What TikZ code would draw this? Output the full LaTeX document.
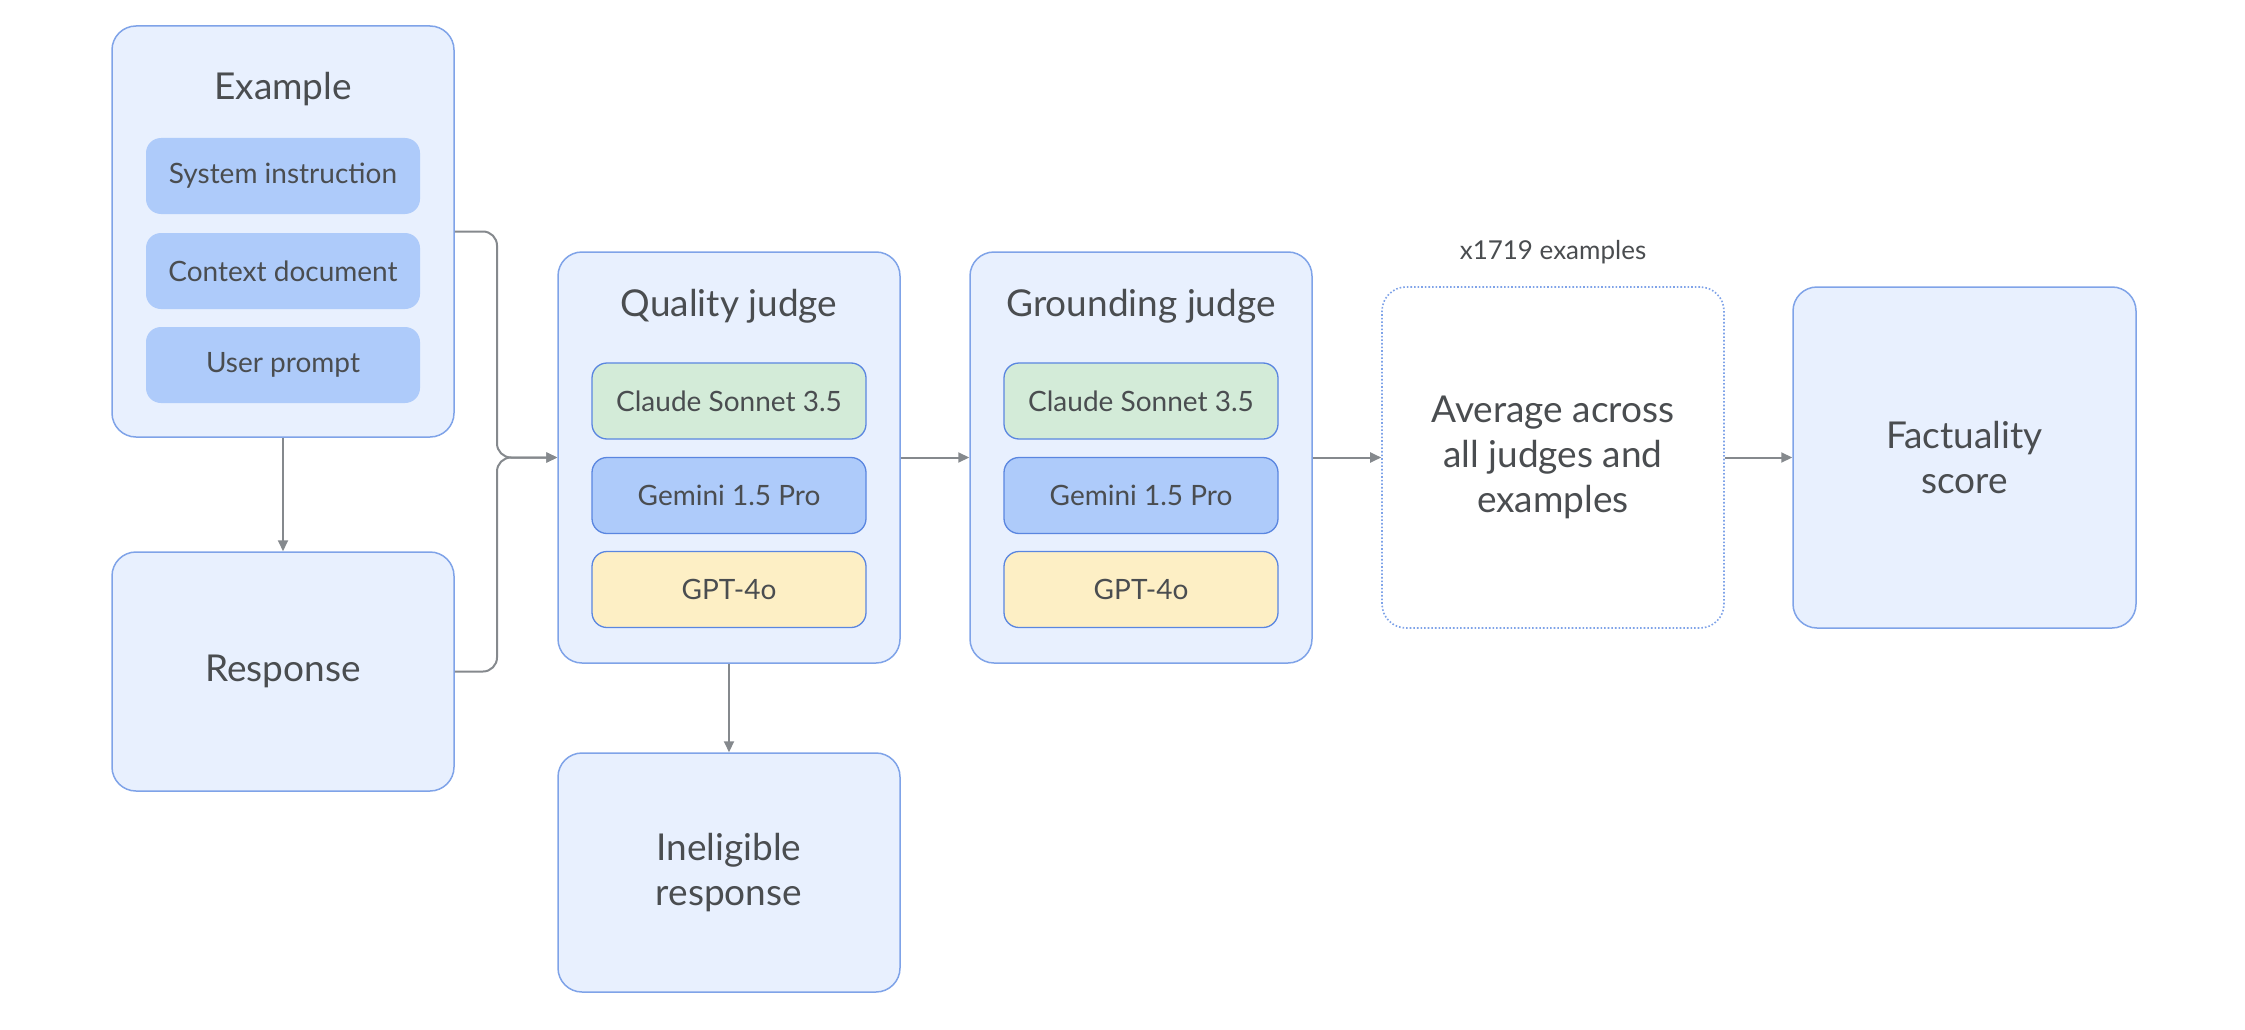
\documentclass[tikz,border=0pt]{standalone}
\usepackage{fontspec}
\setmainfont{Lato}
\usetikzlibrary{arrows.meta}
\definecolor{boxfill}{HTML}{E8F0FE}
\definecolor{boxline}{HTML}{7FA3E8}
\definecolor{subblue}{HTML}{AECBFA}
\definecolor{subline}{HTML}{5A86E0}
\definecolor{subgreen}{HTML}{D3EBD8}
\definecolor{subyellow}{HTML}{FDEFC5}
\definecolor{txt}{HTML}{4A4D50}
\definecolor{conn}{HTML}{85898D}
\tikzset{
  bigbox/.style={draw=boxline, fill=boxfill, line width=1.5pt, rounded corners=24pt, minimum width=342pt, text=txt, font=\fontsize{37}{45}\selectfont, align=center, inner sep=0pt},
  dotbox/.style={draw=boxline, fill=white, line width=1.6pt, dotted, rounded corners=24pt, minimum width=342pt, minimum height=341pt, text=txt, font=\fontsize{37}{45}\selectfont, align=center, inner sep=0pt},
  exsub/.style={fill=subblue, rounded corners=15pt, minimum width=274pt, minimum height=76pt, text=txt, font=\fontsize{28}{32}\selectfont, inner sep=0pt},
  judgesub/.style={draw=subline, line width=1.3pt, rounded corners=15pt, minimum width=274pt, minimum height=76pt, text=txt, font=\fontsize{28}{32}\selectfont, inner sep=0pt},
  titletext/.style={text=txt, font=\fontsize{37}{42}\selectfont, inner sep=0pt},
  conline/.style={draw=conn, line width=2pt, -{Triangle[length=11pt,width=10pt]}},
}
\begin{document}
\begin{tikzpicture}[x=1pt,y=-1pt]
\useasboundingbox (0,0) rectangle (2245,1030);
% big boxes
\node[bigbox, minimum height=411pt] (ex) at (283,231.5) {};
\node[titletext] (extitle) at (283,89) {Example};
\node[exsub] (sys) at (283,176) {System instruction};
\node[exsub] (ctx) at (283,271) {Context document};
\node[exsub] (usr) at (283,365) {User prompt};

\node[bigbox, minimum height=239pt] (resp) at (283,671.5) {Response};

\node[bigbox, minimum height=411pt] (qj) at (729,457.5) {};
\node[titletext] (qjtitle) at (729,306) {Quality judge};
\node[judgesub, fill=subgreen] (qc) at (729,401) {Claude Sonnet 3.5};
\node[judgesub, fill=subblue] (qg) at (729,495.5) {Gemini 1.5 Pro};
\node[judgesub, fill=subyellow] (qo) at (729,589.5) {GPT-4o};

\node[bigbox, minimum height=239pt] (inel) at (729,872.5) {Ineligible\\response};

\node[bigbox, minimum height=411pt] (gj) at (1141,457.5) {};
\node[titletext] (gjtitle) at (1141,306) {Grounding judge};
\node[judgesub, fill=subgreen] (gc) at (1141,401) {Claude Sonnet 3.5};
\node[judgesub, fill=subblue] (gg) at (1141,495.5) {Gemini 1.5 Pro};
\node[judgesub, fill=subyellow] (go) at (1141,589.5) {GPT-4o};

\node[dotbox] (avg) at (1553,457.5) {Average across\\all judges and\\examples};
\node[text=txt, font=\fontsize{26}{30}\selectfont, inner sep=0pt] (cnt) at (1553,252) {x1719 examples};

\node[bigbox, minimum height=341pt, minimum width=343pt] (fact) at (1964.5,457.5) {Factuality\\score};

% connectors
\coordinate (join) at (497,457.5);
\draw[conline, rounded corners=14pt] (ex.east) -| (join) -- (qj.west);
\draw[conline, rounded corners=14pt] (resp.east) -| (join) -- (qj.west);
\draw[conline] (ex.south) -- (resp.north);
\draw[conline] (qj.south) -- (inel.north);
\draw[conline] (qj.east) -- (gj.west);
\draw[conline] (gj.east) -- (avg.west);
\draw[conline] (avg.east) -- (fact.west);
\end{tikzpicture}
\end{document}
